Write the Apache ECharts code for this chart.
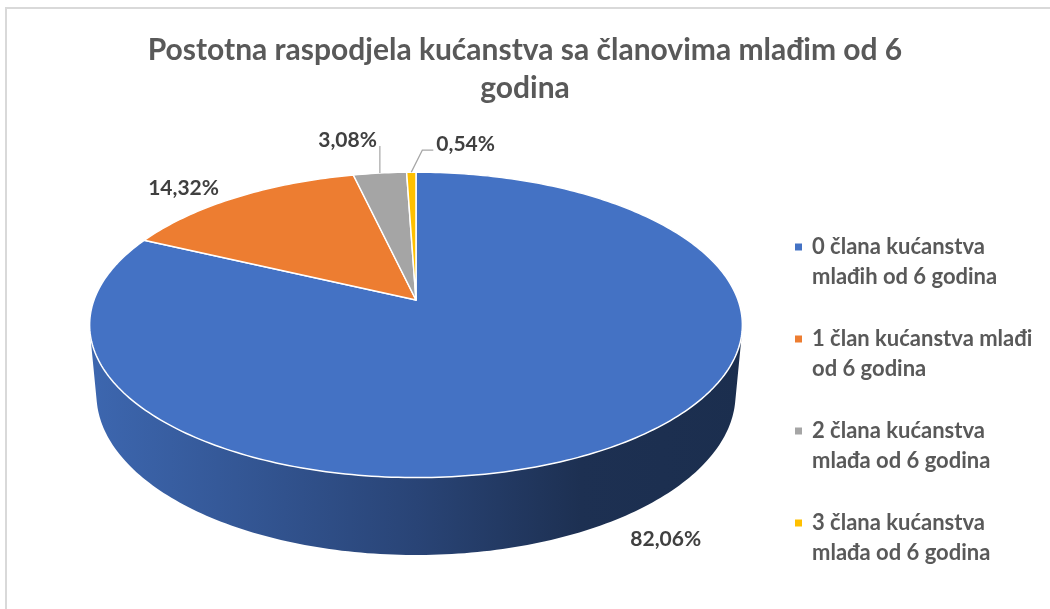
<html>
<head>
    <meta charset="utf-8">
    <script src="https://cdn.jsdelivr.net/npm/echarts@6/dist/echarts.min.js"></script>
    <style>
        html, body { margin: 0; padding: 0; background: #fff; }
        #main { width: 1050px; height: 609px; }
    </style>
</head>
<body>
<div id="main"></div>
<script>
    // podaci
    var categories = [
        '0 člana kućanstva\nmlađih od 6 godina',
        '1 član kućanstva mlađi\nod 6 godina',
        '2 člana kućanstva\nmlađa od 6 godina',
        '3 člana kućanstva\nmlađa od 6 godina'
    ];
    var shares = [82.06, 14.32, 3.08, 0.54];
    var colors = ['#4472C4', '#ED7D31', '#A5A5A5', '#FFC000'];

    var total = shares.reduce(function (a, b) { return a + b; }, 0);
    var starts = [];
    var acc = 0;
    shares.forEach(function (v) { starts.push(acc); acc += v; });

    // "3D" pogled (perspektiva kao u Excelu)
    var cx = 416, cy = 300, focal = 1755, dist = 5.45, height = 0.2455;
    var tilt = 27.5 * Math.PI / 180;
    var ct = Math.cos(tilt), st = Math.sin(tilt);
    var visA = Math.acos(-1 / (dist * ct));
    var visB = 2 * Math.PI - visA;
    var font = 'Lato, sans-serif';

    function project(theta, r, y) {
        var X = Math.sin(theta) * r, Z = Math.cos(theta) * r;
        var u = y * ct + Z * st, v = dist + Z * ct - y * st;
        return [cx + focal * X / v, cy - focal * u / v];
    }

    function arc(a0, a1, y) {
        var n = Math.max(2, Math.ceil((a1 - a0) / (Math.PI / 180)));
        var pts = [];
        for (var i = 0; i <= n; i++) pts.push(project(a0 + (a1 - a0) * i / n, 1, y));
        return pts;
    }

    function shade(hex, k) {
        var n = parseInt(hex.slice(1), 16);
        var r = Math.round(((n >> 16) & 255) * k), g = Math.round(((n >> 8) & 255) * k), b = Math.round((n & 255) * k);
        return 'rgb(' + r + ',' + g + ',' + b + ')';
    }

    function renderSlice(params, api) {
        var val = api.value(0);
        var a0 = api.value(1) / total * 2 * Math.PI;
        var a1 = (api.value(1) + val) / total * 2 * Math.PI;
        var color = colors[params.seriesIndex];
        var children = [];

        // bočna stranica
        var lo = Math.max(a0, visA), hi = Math.min(a1, visB);
        if (lo < hi) {
            var side = arc(lo, hi, 0).concat(arc(lo, hi, -height).reverse());
            children.push({
                type: 'polygon', z2: 0,
                shape: { points: side },
                style: {
                    fill: {
                        type: 'linear', x: cx - 330, y: 0, x2: cx + 330, y2: 0, global: true,
                        colorStops: [
                            { offset: 0, color: shade(color, 0.9) },
                            { offset: 0.5, color: shade(color, 0.6) },
                            { offset: 0.75, color: shade(color, 0.42) },
                            { offset: 1, color: shade(color, 0.4) }
                        ]
                    }
                }
            });
        }

        // gornja ploha
        var top = [[cx, cy]].concat(arc(a0, a1, 0));
        children.push({
            type: 'polygon', z2: 10,
            shape: { points: top },
            style: { fill: color, stroke: '#ffffff', lineWidth: 1.5, lineJoin: 'round' }
        });

        // oznaka
        var mid = (a0 + a1) / 2;
        var text = val.toFixed(2).replace('.', ',') + '%';
        var labelStyle = { text: text, fontFamily: font, fontWeight: 'bold', fontSize: 21, fill: '#404040', verticalAlign: 'middle' };
        if (val >= 5) {
            var front = Math.cos(mid) < 0;
            var p = project(mid, 1.1, front ? -height : 0);
            children.push({
                type: 'text', z2: 20,
                style: Object.assign({ x: p[0] + 60 * Math.sin(mid), y: p[1], align: 'center' }, labelStyle)
            });
        } else {
            var rim = project(mid, 1, 0);
            var line, tx, ty, align;
            if (val >= 1) {
                line = [rim, [rim[0], rim[1] - 27]];
                tx = rim[0] - 3; ty = rim[1] - 33; align = 'right';
            } else {
                line = [rim, [rim[0] + 11, rim[1] - 22], [rim[0] + 22, rim[1] - 22]];
                tx = rim[0] + 25; ty = rim[1] - 28; align = 'left';
            }
            children.push({
                type: 'polyline', z2: 20,
                shape: { points: line },
                style: { stroke: '#a6a6a6', lineWidth: 1.2, fill: null }
            });
            children.push({
                type: 'text', z2: 20,
                style: Object.assign({ x: tx, y: ty, align: align }, labelStyle)
            });
        }
        return { type: 'group', children: children };
    }

    var myChart = echarts.init(document.getElementById('main'));

    var option = {
        backgroundColor: '#ffffff',
        animation: false,
        title: {
            text: 'Postotna raspodjela kućanstva sa članovima mlađim od 6\ngodina',
            left: 'center',
            top: 31,
            padding: [0, 0, 0, 10],
            textStyle: { fontFamily: font, fontWeight: 'bold', fontSize: 30, color: '#595959', lineHeight: 38 }
        },
        legend: {
            orient: 'vertical',
            left: 795,
            top: 202,
            padding: 0,
            itemGap: 2,
            itemWidth: 7,
            itemHeight: 7,
            icon: 'rect',
            selectedMode: false,
            formatter: function (name) { return ' \n' + name; },
            textStyle: { fontFamily: font, fontWeight: 'bold', fontSize: 22, color: '#595959', lineHeight: 30, padding: [0, 0, 0, 5] },
            data: categories
        },
        graphic: [{
            type: 'polyline',
            shape: { points: [[6, 700], [6, 8], [1100, 8]] },
            style: { stroke: '#d9d9d9', lineWidth: 2, fill: null }
        }],
        series: categories.map(function (name, i) {
            return {
                type: 'custom',
                name: name,
                coordinateSystem: 'none',
                itemStyle: { color: colors[i] },
                renderItem: renderSlice,
                data: [[shares[i], starts[i]]]
            };
        })
    };

    myChart.setOption(option);
</script>
</body>
</html>
